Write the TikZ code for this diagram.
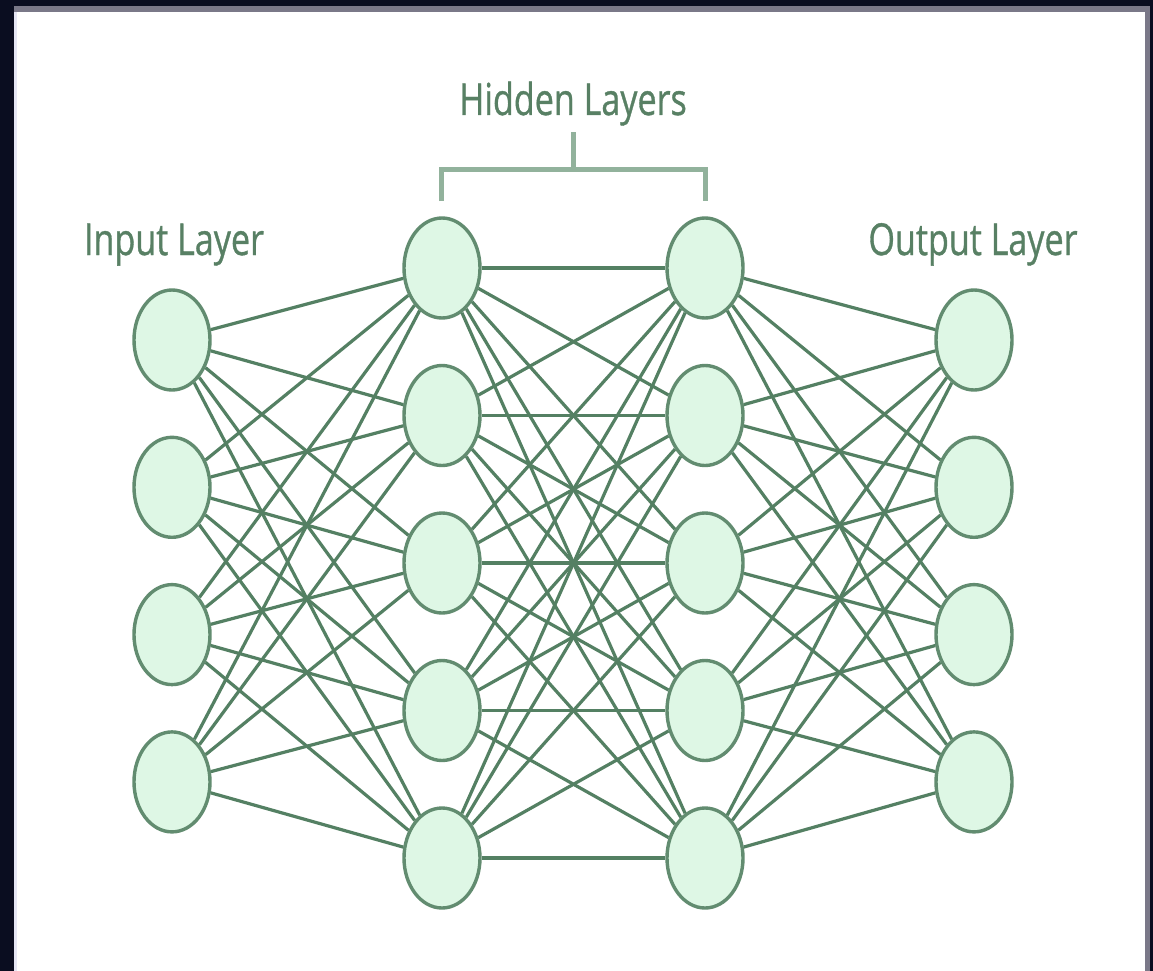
\documentclass[tikz,border=0pt]{standalone}
\usepackage{fontspec}
\usepackage{graphicx}
\setmainfont{Open Sans}
\newfontfamily\layerfont{Open Sans}[FakeBold=0.9]
\usetikzlibrary{shapes.geometric}
\definecolor{framedark}{RGB}{10,13,32}
\definecolor{framegrey}{RGB}{122,120,136}
\definecolor{lav}{RGB}{230,230,244}
\definecolor{edgec}{RGB}{84,128,99}
\definecolor{nodefill}{RGB}{222,247,229}
\definecolor{nodeline}{RGB}{98,140,112}
\definecolor{txt}{RGB}{88,128,100}
\definecolor{brk}{RGB}{146,178,156}
\begin{document}
\begin{tikzpicture}[x=1pt,y=-1pt,
  neuron/.style={ellipse, draw=nodeline, fill=nodefill, line width=3.4pt,
    minimum width=76pt, minimum height=100pt, inner sep=0pt},
  conn/.style={draw=edgec, line width=3.2pt},
  layertext/.style={text=txt, font=\layerfont\fontsize{44}{50}\selectfont, inner sep=0pt, anchor=base},
  bracketline/.style={draw=brk, line width=5pt}
]
% frame
\fill[framedark] (0,0) rectangle (1153,971);
\fill[framegrey] (14,6) rectangle (1150,971);
\fill[lav] (14,12) rectangle (17,971);
\fill[white] (17,12) rectangle (1145,971);
\useasboundingbox (0,0) rectangle (1153,971);

% nodes
\foreach \i in {1,...,4} {
  \node[neuron] (in\i) at (172,{340+147.3*(\i-1)}) {};
  \node[neuron] (out\i) at (974,{340+147.3*(\i-1)}) {};
}
\foreach \i in {1,...,5} {
  \node[neuron] (ha\i) at (442,{268+147.5*(\i-1)}) {};
  \node[neuron] (hb\i) at (705,{268+147.5*(\i-1)}) {};
}

% connections
\foreach \i in {1,...,4} {
  \foreach \j in {1,...,5} {
    \draw[conn] (in\i) -- (ha\j);
    \draw[conn] (hb\j) -- (out\i);
  }
}
\foreach \i in {1,...,5} {
  \foreach \j in {1,...,5} {
    \draw[conn] (ha\i) -- (hb\j);
  }
}

% labels
\node[layertext] (tin) at (174,255) {\scalebox{0.775}[1]{Input Layer}};
\node[layertext] (tout) at (973,255) {\scalebox{0.775}[1]{Output Layer}};
\node[layertext] (thid) at (573,115) {\scalebox{0.775}[1]{Hidden Layers}};

% bracket
\coordinate (bl) at (441,201);
\coordinate (blc) at (441,169);
\coordinate (brc) at (705,169);
\coordinate (br) at (705,201);
\coordinate (bm) at (573,169);
\coordinate (bt) at (573,132);
\draw[bracketline] (bl) -- (blc) -- (brc) -- (br);
\draw[bracketline] (bm) -- (bt);
\end{tikzpicture}
\end{document}
